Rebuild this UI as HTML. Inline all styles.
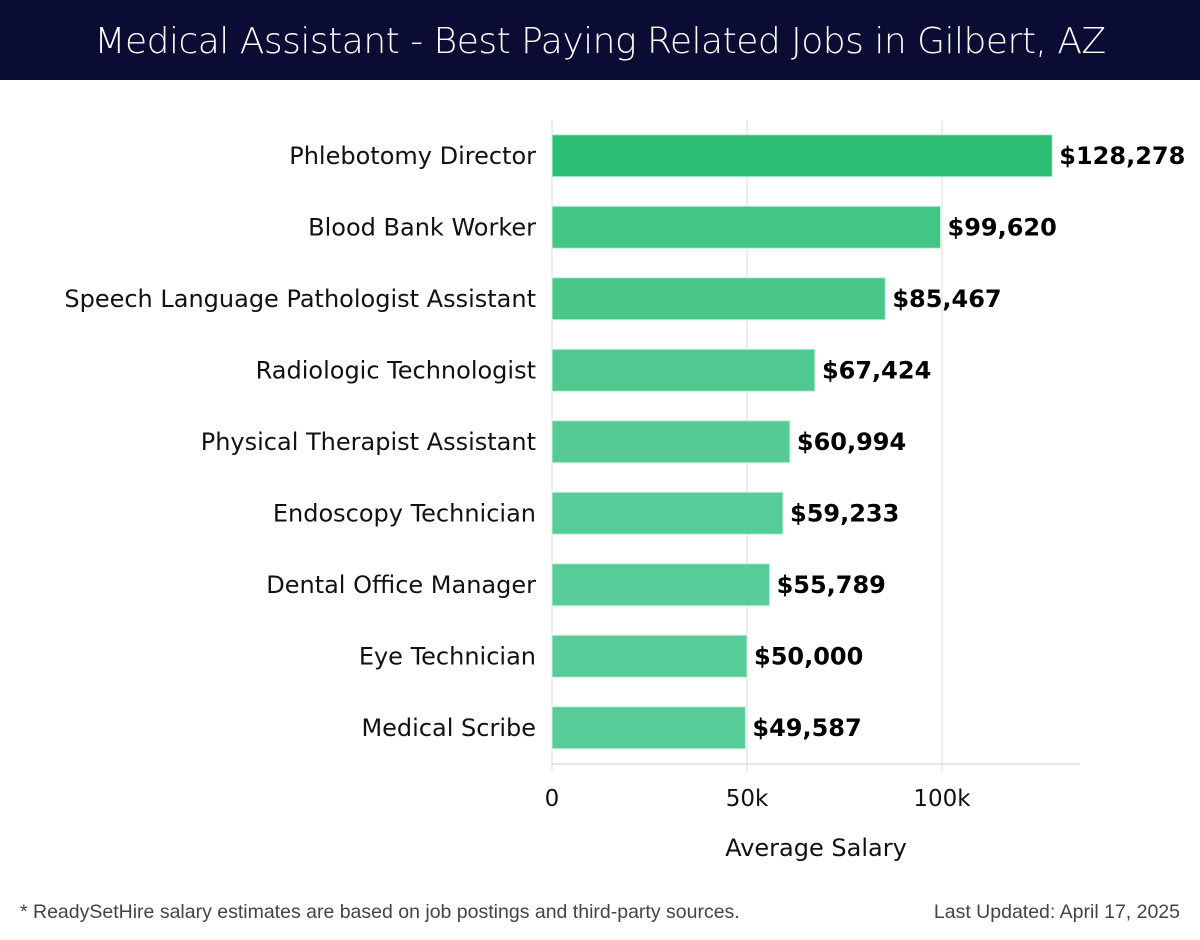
<!DOCTYPE html>
<html><head><meta charset="utf-8"><style>
body{margin:0;width:1200px;height:940px;background:#fff;overflow:hidden;font-family:"DejaVu Sans","Liberation Sans",sans-serif}
#title{position:absolute;left:0;top:0;width:1200px;height:80px;background:#0b0c33;color:#fff;font-family:"DejaVu Sans","Liberation Sans",sans-serif;font-size:36px;text-align:center;line-height:84px;font-weight:200;letter-spacing:-0.5px}
.foot{position:absolute;top:901px;font-size:19.5px;color:#444;font-family:"Liberation Sans",sans-serif}
</style></head><body>
<div id="title">Medical Assistant - Best Paying Related Jobs in Gilbert, AZ</div>
<svg id="chart" width="1200" height="940" style="position:absolute;left:0;top:0"></svg>
<div class="foot" style="left:20px">* ReadySetHire salary estimates are based on job postings and third-party sources.</div>
<div class="foot" style="right:20px">Last Updated: April 17, 2025</div>
<script>
const categories=["Phlebotomy Director","Blood Bank Worker","Speech Language Pathologist Assistant","Radiologic Technologist","Physical Therapist Assistant","Endoscopy Technician","Dental Office Manager","Eye Technician","Medical Scribe"];
const salaries=[128278,99620,85467,67424,60994,59233,55789,50000,49587];
const tickValues=[0,50000,100000];
const tickLabels=["0","50k","100k"];
const NS="http://www.w3.org/2000/svg";
const svg=document.getElementById('chart');
const x0=552,pxPer=195/50000,top0=120,step=71.5,barH=42;
const xs=v=>x0+v*pxPer;
const yc=i=>top0+step*(i+0.5);
function mk(t,a){const e=document.createElementNS(NS,t);for(const k in a)e.setAttribute(k,a[k]);svg.appendChild(e);return e;}
tickValues.forEach((v,i)=>{
 const g=mk('line',{x1:xs(v),x2:xs(v),y1:120,y2:772,stroke:'#ddd','stroke-width':1});
 
 
 const t=mk('text',{x:xs(v),y:806,'text-anchor':'middle','font-size':23,fill:'#111'});
 t.textContent=tickLabels[i];
 
 
});
const ax=mk('line',{x1:x0,x2:1080,y1:764,y2:764,stroke:'#ccc','stroke-width':1});


const c0=[44,190,114],c1=[88,204,152];
categories.forEach((c,i)=>{
 const f=i/(categories.length-1);
 const col='rgb('+c0.map((v,k)=>Math.round(v+(c1[k]-v)*Math.min(1,0.35+f*1.2)*(i?1:0))).join(',')+')';
 const r=mk('rect',{x:x0,y:yc(i)-barH/2,width:xs(salaries[i])-x0,height:barH,fill:col,stroke:'#c8f0dc','stroke-width':1});
 
 
 const l=mk('text',{x:536,y:yc(i)+8,'text-anchor':'end','font-size':24,fill:'#111'});
 l.textContent=c;
 
 
 const v=mk('text',{x:xs(salaries[i])+7,y:yc(i)+8,'font-size':24,'font-weight':'bold',fill:'#000'});
 v.textContent='$'+salaries[i].toLocaleString('en-US');
 
 
});
const xt=mk('text',{x:816,y:856,'text-anchor':'middle','font-size':24,fill:'#111'});
xt.textContent='Average Salary';


</script>
</body></html>
